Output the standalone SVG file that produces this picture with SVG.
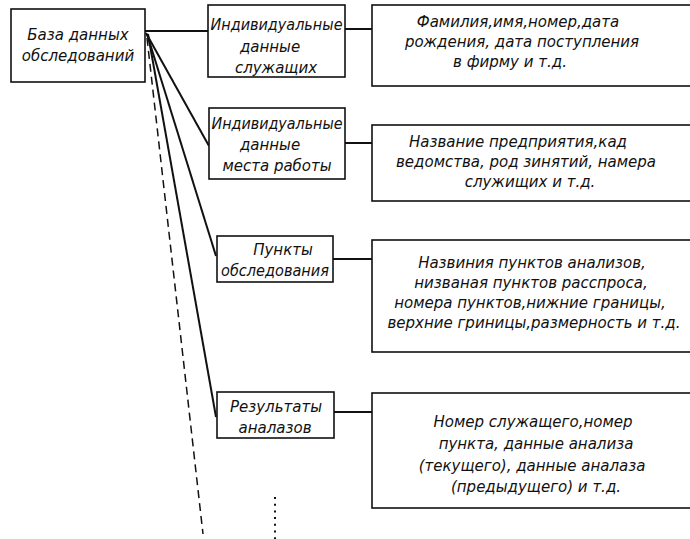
<svg xmlns="http://www.w3.org/2000/svg" width="690" height="539" viewBox="0 0 690 539">
<style>
.box{fill:#fff;stroke:#111;stroke-width:1.6}
.ln{fill:none;stroke:#111;stroke-width:2}
.dash{fill:none;stroke:#111;stroke-width:1.5;stroke-dasharray:8 5}
.dot{fill:none;stroke:#111;stroke-width:2;stroke-dasharray:2 4.7}
text{font-family:"DejaVu Sans","Liberation Sans",sans-serif;font-style:italic;font-size:15px;fill:#111;text-anchor:middle}
</style>
<rect width="690" height="539" fill="#fff"/>
<g id="connectors">
<line class="ln" x1="145" y1="31" x2="208" y2="31"/>
<line class="ln" x1="146" y1="33" x2="209" y2="146"/>
<line class="ln" x1="147" y1="34" x2="216" y2="256"/>
<line class="ln" x1="148" y1="34" x2="216" y2="417"/>
<line class="dash" x1="147" y1="38" x2="203" y2="534"/>
<line class="dot" x1="275" y1="497" x2="275" y2="539"/>
<line class="ln" x1="345" y1="29" x2="372" y2="29"/>
<line class="ln" x1="345" y1="143" x2="372" y2="143"/>
<line class="ln" x1="333" y1="259" x2="372" y2="259"/>
<line class="ln" x1="334" y1="412" x2="372" y2="412"/>
</g>
<g id="db">
<rect class="box" x="11" y="9" width="134" height="73"/>
<text x="78" y="40">База данных</text>
<text x="78" y="61">обследований</text>
</g>
<g id="emp">
<rect class="box" x="208" y="5" width="137" height="72"/>
<text x="276.5" y="30" textLength="132" lengthAdjust="spacingAndGlyphs">Индивидуальные</text>
<text x="270" y="52">данные</text>
<text x="276" y="73">служащих</text>
</g>
<g id="emp-d">
<rect class="box" x="372" y="5" width="330" height="81"/>
<text x="518" y="27">Фамилия,имя,номер,дата</text>
<text x="522" y="47">рождения, дата поступления</text>
<text x="510" y="67">в фирму и т.д.</text>
</g>
<g id="work">
<rect class="box" x="209" y="108" width="136" height="71"/>
<text x="277" y="129" textLength="131" lengthAdjust="spacingAndGlyphs">Индивидуальные</text>
<text x="270" y="150">данные</text>
<text x="277" y="171">места работы</text>
</g>
<g id="work-d">
<rect class="box" x="372" y="125" width="330" height="76"/>
<text x="518" y="147">Название предприятия,кад</text>
<text x="526" y="167">ведомства, род зинятий, намера</text>
<text x="530" y="187">служищих и т.д.</text>
</g>
<g id="points">
<rect class="box" x="217" y="236" width="116" height="46"/>
<text x="283" y="255">Пункты</text>
<text x="275" y="276" textLength="108" lengthAdjust="spacingAndGlyphs">обследования</text>
</g>
<g id="points-d">
<rect class="box" x="372" y="240" width="330" height="112"/>
<text x="532" y="268">Назвиния пунктов анализов,</text>
<text x="531" y="288">низваная пунктов расспроса,</text>
<text x="530" y="308">номера пунктов,нижние границы,</text>
<text x="534" y="328">верхние гриницы,размерность и т.д.</text>
</g>
<g id="results">
<rect class="box" x="217" y="392" width="117" height="46"/>
<text x="276" y="412">Результаты</text>
<text x="275" y="433">аналазов</text>
</g>
<g id="results-d">
<rect class="box" x="372" y="393" width="330" height="115"/>
<text x="533" y="427">Номер служащего,номер</text>
<text x="536" y="449">пункта, данные анализа</text>
<text x="532" y="471">(текущего), данные аналаза</text>
<text x="536" y="492">(предыдущего) и т.д.</text>
</g>
</svg>
